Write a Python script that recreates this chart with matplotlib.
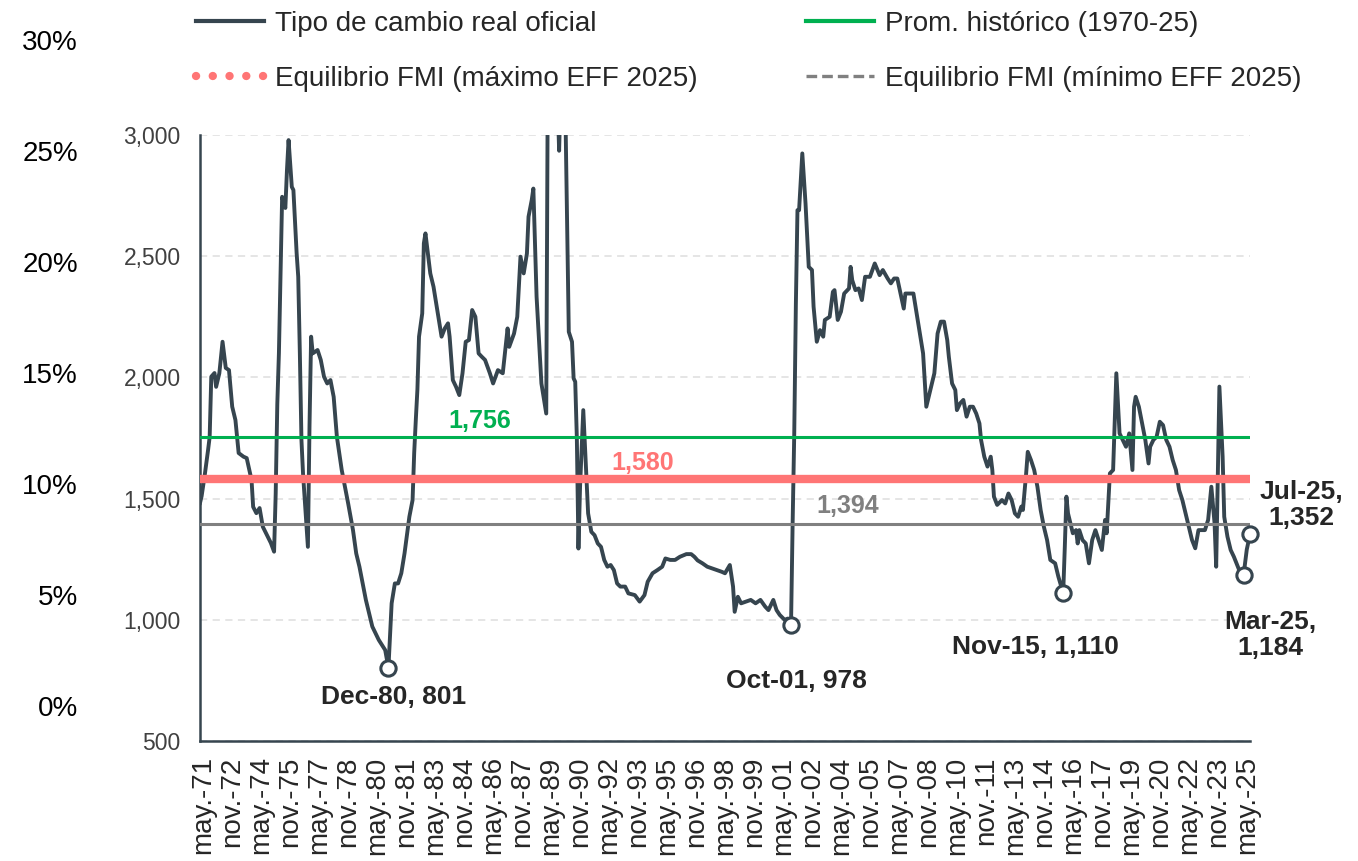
import numpy as np
import matplotlib
matplotlib.use("Agg")
import matplotlib.pyplot as plt
from matplotlib.lines import Line2D
from matplotlib.ticker import FuncFormatter, PercentFormatter

plt.rcParams['font.family'] = ['Liberation Sans', 'DejaVu Sans']

# Tipo de cambio real oficial (clipped above 3,000 in 1989-90)
dates = [
    '1971-03', '1971-04', '1971-06', '1971-08', '1971-09', '1971-10', '1971-12',
    '1972-01', '1972-03', '1972-05', '1972-07', '1972-09', '1972-11',
    '1973-01', '1973-03', '1973-06', '1973-08', '1973-11', '1973-12',
    '1974-02', '1974-04', '1974-06', '1974-08', '1974-11',
    '1975-01', '1975-02', '1975-03', '1975-04', '1975-06', '1975-08', '1975-09', '1975-10', '1975-12',
    '1976-01', '1976-03', '1976-04', '1976-05', '1976-06', '1976-07', '1976-10', '1976-11', '1976-12',
    '1977-01', '1977-04', '1977-06', '1977-08', '1977-10', '1977-12',
    '1978-02', '1978-04', '1978-07', '1978-11',
    '1979-02', '1979-04', '1979-06', '1979-10',
    '1980-02', '1980-06', '1980-10', '1980-12',
    '1981-02', '1981-04', '1981-06', '1981-08', '1981-10',
    '1982-01', '1982-03', '1982-04', '1982-05', '1982-06', '1982-07', '1982-09', '1982-10', '1982-11', '1982-12',
    '1983-02', '1983-04', '1983-06', '1983-09', '1983-11',
    '1984-01', '1984-02', '1984-04', '1984-06', '1984-08', '1984-10', '1984-12',
    '1985-02', '1985-04', '1985-06', '1985-08', '1985-10', '1985-12',
    '1986-03', '1986-05', '1986-08', '1986-11',
    '1987-02', '1987-03', '1987-06', '1987-08', '1987-10', '1987-12',
    '1988-02', '1988-03', '1988-05', '1988-06', '1988-08', '1988-10', '1988-11',
    '1989-02', '1989-03', '1989-05', '1989-07', '1989-10', '1989-11',
    '1990-01', '1990-02', '1990-04', '1990-06', '1990-07', '1990-08', '1990-09', '1990-10', '1990-11',
    '1991-01', '1991-03', '1991-04', '1991-06', '1991-08', '1991-10', '1991-12',
    '1992-02', '1992-04', '1992-06', '1992-08', '1992-10', '1992-12',
    '1993-03', '1993-05', '1993-09', '1993-12',
    '1994-03', '1994-05', '1994-08', '1994-11',
    '1995-02', '1995-04', '1995-07', '1995-10',
    '1996-01', '1996-05', '1996-08', '1996-10', '1996-12',
    '1997-03', '1997-06', '1997-09', '1997-12',
    '1998-03', '1998-05', '1998-08', '1998-10', '1998-11',
    '1999-01', '1999-03', '1999-06', '1999-09', '1999-12',
    '2000-03', '2000-06', '2000-08', '2000-11',
    '2001-01', '2001-03', '2001-06', '2001-08', '2001-10', '2001-11', '2001-12',
    '2002-01', '2002-02', '2002-03', '2002-05', '2002-07', '2002-09', '2002-11', '2002-12',
    '2003-02', '2003-04', '2003-06', '2003-07', '2003-10', '2003-12',
    '2004-01', '2004-03', '2004-05', '2004-07', '2004-10', '2004-11', '2004-12',
    '2005-02', '2005-04', '2005-06', '2005-08', '2005-11',
    '2006-02', '2006-05', '2006-07', '2006-10', '2006-12',
    '2007-02', '2007-04', '2007-06', '2007-08', '2007-09',
    '2008-02', '2008-04', '2008-06', '2008-08', '2008-10',
    '2009-01', '2009-03', '2009-05', '2009-07', '2009-09', '2009-11', '2009-12',
    '2010-02', '2010-04', '2010-05', '2010-07', '2010-09', '2010-11',
    '2011-01', '2011-03', '2011-05', '2011-07', '2011-08', '2011-10', '2011-12',
    '2012-02', '2012-03', '2012-04', '2012-06', '2012-09', '2012-11',
    '2013-01', '2013-03', '2013-05', '2013-07', '2013-09', '2013-10', '2013-12',
    '2014-01', '2014-03', '2014-05', '2014-07', '2014-09', '2014-11',
    '2015-01', '2015-03', '2015-06', '2015-08', '2015-11', '2015-12',
    '2016-01', '2016-02', '2016-05', '2016-07', '2016-08', '2016-09', '2016-11',
    '2017-01', '2017-03', '2017-05', '2017-07', '2017-09', '2017-11',
    '2018-01', '2018-02', '2018-04', '2018-06', '2018-08', '2018-10', '2018-12',
    '2019-02', '2019-04', '2019-06', '2019-07', '2019-08', '2019-10', '2019-12',
    '2020-02', '2020-04', '2020-05', '2020-07', '2020-09', '2020-11',
    '2021-01', '2021-03', '2021-05', '2021-07', '2021-09', '2021-11',
    '2022-01', '2022-03', '2022-05', '2022-07', '2022-09', '2022-11',
    '2023-01', '2023-03', '2023-05', '2023-07', '2023-09', '2023-10', '2023-12',
    '2024-02', '2024-03', '2024-05', '2024-07', '2024-09', '2024-12',
    '2025-03', '2025-05', '2025-07',
]
rer = [
    1482, 1510, 1600, 1700, 1754, 2003, 2018,
    1961, 2017, 2147, 2039, 2030, 1879,
    1824, 1688, 1673, 1667, 1577, 1466,
    1440, 1461, 1384, 1357, 1317,
    1281, 1520, 1890, 2100, 2745, 2699, 2855, 2979, 2786,
    2773, 2513, 2415, 2100, 1741, 1600, 1301, 1800, 2168,
    2099, 2113, 2072, 2003, 1975, 1989,
    1920, 1755, 1618, 1480,
    1370, 1274, 1219, 1082,
    972, 917, 875, 801,
    1068, 1150, 1150, 1192, 1274,
    1425, 1494, 1688, 1824, 1950, 2168, 2264, 2553, 2594, 2539,
    2429, 2374, 2292, 2168, 2202,
    2223, 2168, 1989, 1961, 1927, 2017, 2147,
    2154, 2278, 2250, 2099, 2085, 2072,
    2017, 1975, 2030, 2017,
    2202, 2126, 2181, 2250, 2498, 2429,
    2511, 2663, 2732, 2779, 2333, 2099, 1975,
    1851, 3300, 3900, 3600, 2935, 3200,
    3700, 3050, 2188, 2147, 1996, 1982, 1750, 1294, 1550,
    1865, 1577, 1439, 1363, 1349, 1315, 1301,
    1247, 1219, 1226, 1205, 1150, 1137,
    1137, 1109, 1102, 1075,
    1102, 1157, 1192, 1205,
    1219, 1253, 1247, 1247,
    1260, 1271, 1271, 1260, 1245,
    1233, 1219, 1212, 1205,
    1198, 1192, 1226, 1137, 1033,
    1095, 1068, 1075, 1082, 1068,
    1082, 1054, 1040, 1082,
    1040, 1020, 1000, 1005, 978, 1400, 1769,
    2300, 2690, 2690, 2924, 2718, 2456, 2443, 2292,
    2147, 2195, 2168, 2237, 2250, 2353,
    2360, 2237, 2271, 2346, 2367, 2456, 2401,
    2360, 2367, 2319, 2415, 2415,
    2470, 2422, 2443, 2408, 2388,
    2408, 2408, 2346, 2284, 2346,
    2346, 2264, 2181, 2099, 1879,
    1961, 2017, 2181, 2230, 2230, 2154, 2085,
    1975, 1948, 1865, 1893, 1907, 1838,
    1879, 1879, 1851, 1810, 1742, 1673, 1632,
    1673, 1618, 1508, 1474, 1494, 1480,
    1521, 1494, 1439, 1425, 1467, 1453, 1604,
    1693, 1659, 1618, 1549, 1453, 1384,
    1329, 1247, 1233, 1178, 1110, 1300,
    1508, 1439, 1357, 1370, 1315, 1370, 1329,
    1315, 1233, 1329, 1370, 1329, 1288,
    1412, 1357, 1604, 1618, 2017, 1769, 1742,
    1714, 1769, 1618, 1879, 1920, 1879, 1810,
    1742, 1645, 1714, 1742, 1755, 1817,
    1803, 1742, 1714, 1659, 1618, 1535,
    1494, 1439, 1384, 1329, 1295, 1370,
    1370, 1370, 1412, 1549, 1398, 1219, 1962,
    1673, 1425, 1343, 1288, 1260, 1210,
    1184, 1290, 1352,
]

prom_historico = 1756
fmi_max = 1580
fmi_min = 1394

ann_dates = ['1980-12', '2001-10', '2015-11', '2025-03', '2025-07']
ann_texts = ['Dec-80, 801', 'Oct-01, 978', 'Nov-15, 1,110', 'Mar-25,\n1,184', 'Jul-25,\n1,352']
ann_offsets = [(3.6, -21), (3.6, -40), (-20, -39), (19.5, -43), (37, 21)]

pct_ticks = [0, 0.05, 0.10, 0.15, 0.20, 0.25, 0.30]

DARK = '#36454F'
GREEN = '#00B050'
SALMON = '#FF7575'
GRAY = '#808080'
TXT = '#262626'


def month_idx(s):
    y, m = s.split('-')
    return (int(y) - 1971) * 12 + int(m) - 1


x = np.array([month_idx(d) for d in dates])
y = np.array(rer)

fig = plt.figure(figsize=(13.58, 8.61), dpi=100)
ax = fig.add_axes([200 / 1358, 1 - 741 / 861, 1050 / 1358, 606 / 861])

ax.plot(x, y, color=DARK, lw=2.8, zorder=3, solid_joinstyle='round')
ax.axhline(prom_historico, color=GREEN, lw=2.2, zorder=4)
ax.axhline(fmi_max, color=SALMON, lw=6, zorder=4)
ax.axhline(fmi_min, color=GRAY, lw=2.2, zorder=4)

lbl = dict(ha='center', va='center', fontsize=18, fontweight='bold',
           textcoords='offset points')
ax.annotate(f'{prom_historico:,}', xy=(176, prom_historico), xytext=(0, 11.5), color=GREEN, **lbl)
ax.annotate(f'{fmi_max:,}', xy=(277, fmi_max), xytext=(0, 11.5), color=SALMON, **lbl)
ax.annotate(f'{fmi_min:,}', xy=(404, fmi_min), xytext=(0, 13.5), color=GRAY, **lbl)

lookup = dict(zip(dates, rer))
for d, t, off in zip(ann_dates, ann_texts, ann_offsets):
    xi, yi = month_idx(d), lookup[d]
    ax.plot(xi, yi, 'o', ms=11, mfc='white', mec=DARK, mew=2.2, clip_on=False, zorder=6)
    ax.annotate(t, xy=(xi, yi), xytext=off, textcoords='offset points',
                ha='center', va='center', fontsize=19, fontweight='bold',
                color=TXT, linespacing=1.1, annotation_clip=False)

ax.set_xlim(x[0], x[-1])
ax.set_ylim(500, 3000)
ax.set_yticks(np.arange(500, 3001, 500))
ax.yaxis.set_major_formatter(FuncFormatter(lambda v, p: f'{int(v):,}'))
ax.grid(axis='y', color='#E3E3E3', lw=1.3, ls=(0, (4, 3)), zorder=0)

mon = {5: 'may.', 11: 'nov.'}
xt = np.arange(month_idx('1971-05'), x[-1] + 1, 18)
ax.set_xticks(xt)
ax.set_xticklabels([f"{mon[t % 12 + 1]}-{(1971 + t // 12) % 100:02d}" for t in xt],
                   rotation=90)

ax.tick_params(axis='y', length=0, pad=14, labelsize=16.5, labelcolor='#404040')
ax.tick_params(axis='x', length=0, pad=11, labelsize=20, labelcolor=TXT)
for s in ['top', 'right']:
    ax.spines[s].set_visible(False)
for s in ['left', 'bottom']:
    ax.spines[s].set_color(DARK)
    ax.spines[s].set_linewidth(1.8)

# leftover percent scale on the far left
ax_pct = fig.add_axes([78 / 1358, 1 - 706 / 861, 0.0005, 666 / 861])
ax_pct.set_ylim(0, 0.30)
ax_pct.set_yticks(pct_ticks)
ax_pct.yaxis.set_major_formatter(PercentFormatter(1.0, decimals=0))
ax_pct.set_xticks([])
ax_pct.tick_params(axis='y', length=0, pad=0, labelsize=20, labelcolor='black')
for s in ax_pct.spines.values():
    s.set_visible(False)
ax_pct.patch.set_visible(False)

handles = [
    Line2D([], [], color=DARK, lw=3),
    Line2D([], [], color=SALMON, lw=6, ls=(0, (0.01, 2.0)), dash_capstyle='round'),
    Line2D([], [], color=GREEN, lw=3),
    Line2D([], [], color=GRAY, lw=2.4, ls=(0, (3.2, 1.5))),
]
labels = ['Tipo de cambio real oficial', 'Equilibrio FMI (máximo EFF 2025)',
          'Prom. histórico (1970-25)', 'Equilibrio FMI (mínimo EFF 2025)']
fig.legend(handles, labels, loc='upper left', bbox_to_anchor=(196 / 1358, 1 - 11 / 861),
           ncol=2, frameon=False, fontsize=20, handlelength=2.45, handletextpad=0.4,
           columnspacing=3.9, labelspacing=1.05, borderpad=0, borderaxespad=0,
           labelcolor=TXT)

fig.savefig('out.png', dpi=100)
